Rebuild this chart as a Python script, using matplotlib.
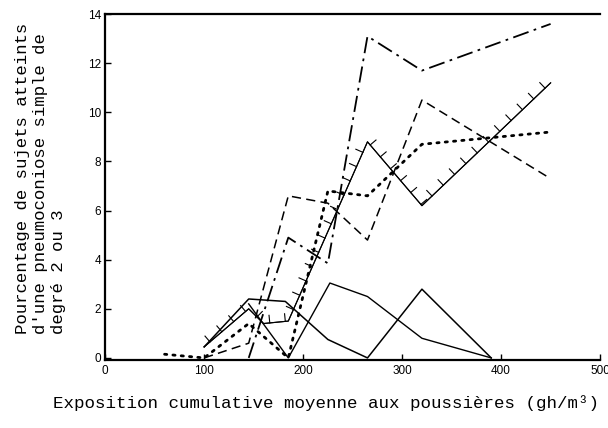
import matplotlib
matplotlib.use("Agg")
import matplotlib.pyplot as plt
from matplotlib import patheffects

x_a = [145, 185, 225, 265, 320, 450]
y_a = [0, 4.9, 3.85, 13.1, 11.7, 13.6]

x_b = [100, 145, 185, 225, 265, 320, 450]
y_b = [0, 0.6, 6.6, 6.3, 4.8, 10.5, 7.3]

x_d = [60, 100, 145, 185, 225, 265, 320, 450]
y_d = [0.15, 0, 1.4, 0, 6.8, 6.6, 8.7, 9.2]

x_t = [100, 145, 160, 185, 265, 320, 450]
y_t = [0.45, 2.0, 1.4, 1.5, 8.8, 6.2, 11.2]

x_s1 = [100, 145, 182, 225, 265, 320, 390]
y_s1 = [0.45, 2.4, 2.3, 0.75, 0, 2.8, 0]

x_s2 = [145, 185, 227, 265, 320, 390]
y_s2 = [2.2, 0, 3.05, 2.5, 0.8, 0]

x_ticks = [0, 100, 200, 300, 400, 500]
y_ticks = [0, 2, 4, 6, 8, 10, 12, 14]

fig = plt.figure(figsize=(6.08, 4.28), dpi=100)
ax = fig.add_axes([0.173, 0.158, 0.814, 0.809])

ax.plot(x_a, y_a, color="black", linewidth=1.3, linestyle=(0, (9, 3, 1.5, 3)))
ax.plot(x_b, y_b, color="black", linewidth=1.1, linestyle=(0, (6, 3.5)))
ax.plot(x_d, y_d, color="black", linewidth=2.0, linestyle=(0, (0.8, 2.2)),
        dash_capstyle="round")
ax.plot(x_t, y_t, color="black", linewidth=0.8,
        path_effects=[patheffects.withTickedStroke(angle=90, spacing=11, length=0.5,
                                                    linewidth=0.8),
                      patheffects.Normal()])
ax.plot(x_s1, y_s1, color="black", linewidth=1.1)
ax.plot(x_s2, y_s2, color="black", linewidth=1.0)

ax.set_xlim(0, 500)
ax.set_ylim(-0.1, 14)
ax.set_xticks(x_ticks)
ax.set_yticks(y_ticks)
ax.tick_params(direction="in", length=4, width=1, labelsize=8.5, pad=3)
for lab in ax.get_xticklabels() + ax.get_yticklabels():
    lab.set_family("Liberation Sans")

ax.spines["right"].set_visible(False)
for side in ["left", "top", "bottom"]:
    ax.spines[side].set_linewidth(1.6)

fig.text(326 / 608, 0.058,
         "Exposition cumulative moyenne aux poussières (gh/m³)",
         ha="center", va="center", family="Liberation Mono", fontsize=12.6)

fig.text(41 / 608, 0.584,
         "Pourcentage de sujets atteints\nd'une pneumoconiose simple de\ndegré 2 ou 3",
         rotation=90, ha="center", va="center", multialignment="left",
         family="Liberation Mono", fontsize=12.5, linespacing=1.25)

fig.savefig("out.png", dpi=100)
plt.close(fig)
